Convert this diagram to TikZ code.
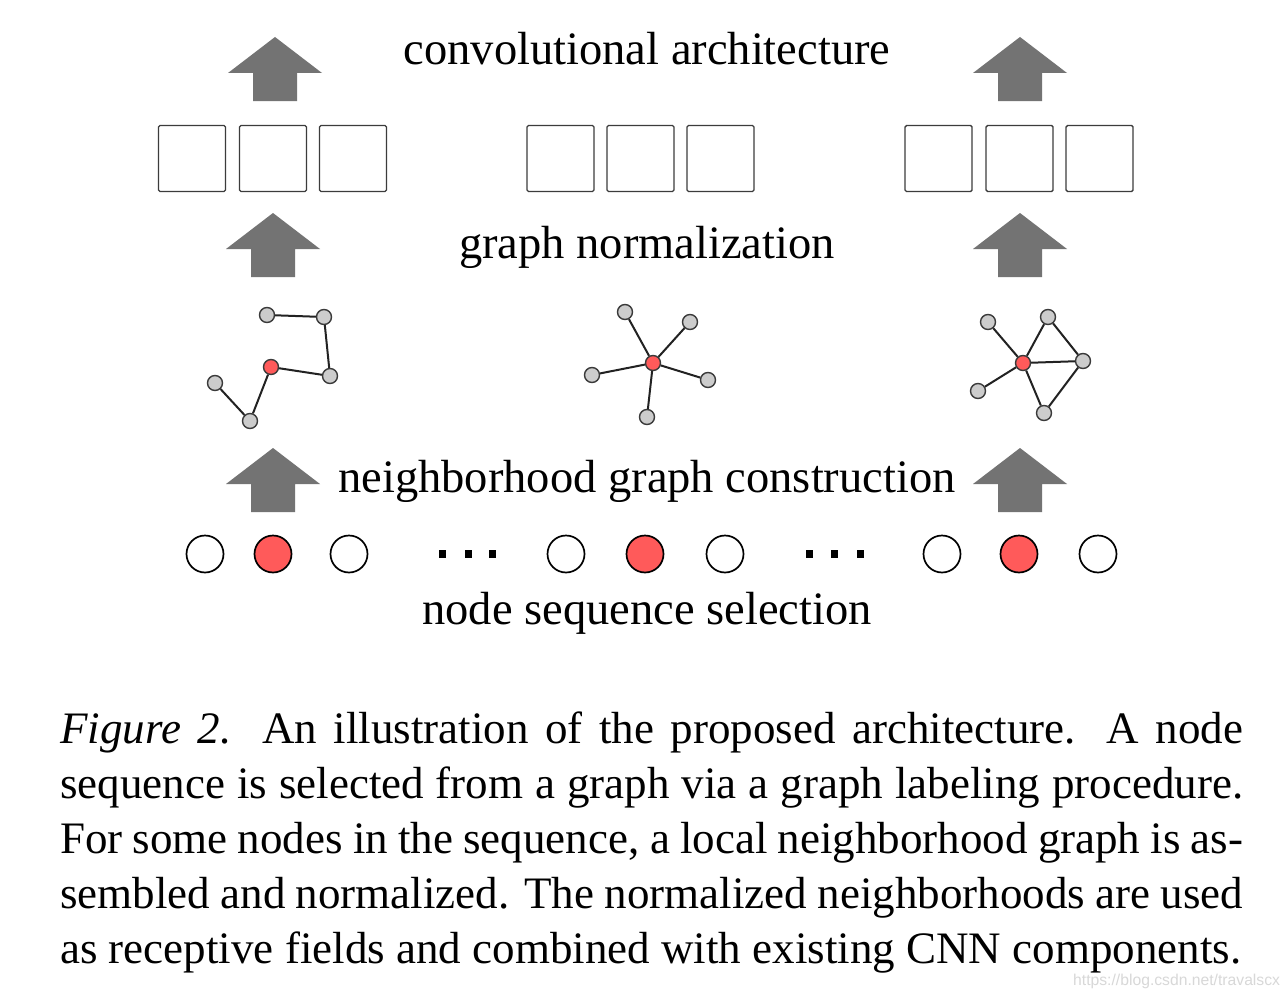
\documentclass[tikz,border=0pt]{standalone}
\usepackage{fontspec}
\setmainfont{Liberation Serif}
\newfontfamily\wmfont{Liberation Sans}
\definecolor{arrowgray}{HTML}{737373}
\definecolor{boxgray}{HTML}{3C3C3C}
\definecolor{nodered}{HTML}{FF5A5A}
\definecolor{ggray}{HTML}{CCCCCC}
\definecolor{gborder}{HTML}{3A3A3A}
\definecolor{edgecol}{HTML}{222222}
\definecolor{wmgray}{HTML}{D8D8D8}
\tikzset{uparrow/.pic={\fill[arrowgray] (0,0) -- (47,36) -- (22,36) -- (22,64) -- (-22,64) -- (-22,36) -- (-47,36) -- cycle;}}
\begin{document}
\begin{tikzpicture}[x=1pt,y=-1pt,
  lbl/.style={inner sep=0, anchor=base, font=\fontsize{46.5}{56}\selectfont},
  captext/.style={inner sep=0, anchor=base west, font=\fontsize{45}{54.8}\selectfont},
  cell/.style={draw=boxgray, line width=1.4pt, rounded corners=1.5pt, minimum width=67pt, minimum height=66pt, inner sep=0},
  seq/.style={circle, draw=black, line width=1.7pt, minimum size=37pt, inner sep=0, fill=white},
  seqred/.style={seq, fill=nodered},
  gn/.style={circle, draw=gborder, line width=1.4pt, fill=ggray, minimum size=15pt, inner sep=0},
  gr/.style={gn, fill=nodered},
  edge/.style={line width=2pt, draw=edgecol},
  dotsq/.style={fill=black, minimum width=7pt, minimum height=8pt, inner sep=0},
]
\useasboundingbox (0,0) rectangle (1288,998);
\fill[white] (0,0) rectangle (1288,998);

% labels
\node[lbl] (tconv) at (647,64) {convolutional architecture};
\node[lbl] (tnorm) at (647,258) {graph normalization};
\node[lbl] (tneigh) at (647,492) {neighborhood graph construction};
\node[lbl] (tsel) at (647,624) {node sequence selection};

% block arrows
\pic (a1l) at (275,37) {uparrow};
\pic (a1r) at (1020,37) {uparrow};
\pic (a2l) at (273,213) {uparrow};
\pic (a2r) at (1020,213) {uparrow};
\pic (a3l) at (273,448) {uparrow};
\pic (a3r) at (1020,448) {uparrow};

% receptive field cells
\foreach \x [count=\i] in {192,273,353,560.5,640.5,720.5,938.5,1019.5,1099.5}
  \node[cell] (c\i) at (\x,158.5) {};

% left neighborhood graph
\node[gn] (la) at (267,315) {};
\node[gn] (lb) at (324,317) {};
\node[gn] (lc) at (330,376) {};
\node[gr] (lr) at (271,367) {};
\node[gn] (ld) at (215,383) {};
\node[gn] (le) at (250,421) {};
\draw[edge] (la) -- (lb);
\draw[edge] (lb) -- (lc);
\draw[edge] (lc) -- (lr);
\draw[edge] (lr) -- (le);
\draw[edge] (le) -- (ld);

% middle neighborhood graph
\node[gn] (ma) at (625,312) {};
\node[gn] (mb) at (690,322) {};
\node[gr] (mr) at (653,363) {};
\node[gn] (mc) at (592,375) {};
\node[gn] (md) at (708,380) {};
\node[gn] (me) at (647,417) {};
\foreach \n in {ma,mb,mc,md,me} \draw[edge] (mr) -- (\n);

% right neighborhood graph
\node[gn] (ra) at (988,322) {};
\node[gn] (rb) at (1048,317) {};
\node[gr] (rr) at (1023,363) {};
\node[gn] (rc) at (1083,361) {};
\node[gn] (rd) at (978,391) {};
\node[gn] (re) at (1044,413) {};
\foreach \n in {ra,rb,rc,rd,re} \draw[edge] (rr) -- (\n);
\draw[edge] (rb) -- (rc);
\draw[edge] (rc) -- (re);

% node sequence
\node[seq] (s1) at (205,554) {};
\node[seqred] (s2) at (273,554) {};
\node[seq] (s3) at (349,554) {};
\node[seq] (s4) at (566,554) {};
\node[seqred] (s5) at (645,554) {};
\node[seq] (s6) at (725,554) {};
\node[seq] (s7) at (942,554) {};
\node[seqred] (s8) at (1019,554) {};
\node[seq] (s9) at (1098,554) {};
\foreach \x [count=\i] in {442,468,492,809,834,860}
  \node[dotsq] (d\i) at (\x,554) {};

% caption
\node[captext] (cap1) at (60,743) {\makebox[1183pt][s]{\textit{Figure 2.} An illustration of the proposed architecture. A node}};
\node[captext] (cap2) at (60,798) {\makebox[1183pt][s]{sequence is selected from a graph via a graph labeling procedure.}};
\node[captext] (cap3) at (60,853) {\makebox[1183pt][s]{For some nodes in the sequence, a local neighborhood graph is as-}};
\node[captext] (cap4) at (60,908) {\makebox[1183pt][s]{sembled and normalized. The normalized neighborhoods are used}};
\node[captext] (cap5) at (60,963) {as receptive fields and combined with existing CNN components.};

% watermark
\node[inner sep=0, anchor=base west, font=\wmfont\fontsize{15.7}{18}\selectfont, text=wmgray] (wm) at (1073,985) {https://blog.csdn.net/travalscx};
\end{tikzpicture}
\end{document}
